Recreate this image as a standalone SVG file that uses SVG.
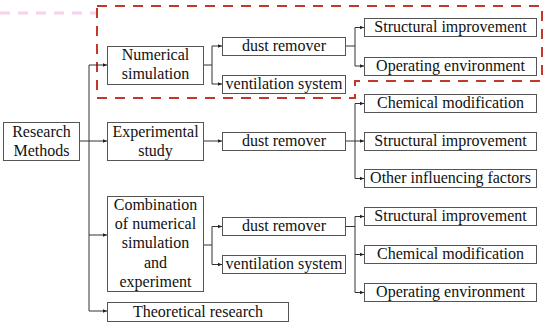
<svg xmlns="http://www.w3.org/2000/svg" width="550" height="328" viewBox="0 0 550 328">
<defs>
<marker id="ah" markerWidth="5" markerHeight="5" refX="4.5" refY="2.5" orient="auto" markerUnits="userSpaceOnUse">
<path d="M0,0.5 L4.5,2.5 L0,4.5 Z" fill="#222"/>
</marker>
</defs>
<style>
.box{fill:#fff;stroke:#555;stroke-width:1}
.t{font-family:"Liberation Serif","Times New Roman",serif;font-size:16px;fill:#111;text-anchor:middle}
.c{fill:none;stroke:#333;stroke-width:1}
.a{marker-end:url(#ah)}
</style>
<rect width="550" height="328" fill="#fff"/>
<g id="highlight">
<line x1="0" y1="13" x2="96" y2="13" stroke="#f6d3ec" stroke-width="3" stroke-dasharray="10 8"/>
<path d="M97,6 H542 V81 H355 V98 H97 Z" fill="none" stroke="#c0392b" stroke-width="2" stroke-dasharray="10 8"/>
</g>
<g id="connectors">
<path class="c" d="M79,141 H89"/>
<path class="c" d="M89,65 V311"/>
<path class="c a" d="M89,65 H107"/>
<path class="c a" d="M89,141 H107"/>
<path class="c a" d="M89,235 H107"/>
<path class="c a" d="M89,311 H107"/>
<path class="c" d="M203,65 H212 M212,46 V84"/>
<path class="c a" d="M212,46 H222"/>
<path class="c a" d="M212,84 H222"/>
<path class="c" d="M345,46 H355 M355,27.5 V66"/>
<path class="c a" d="M355,27.5 H364"/>
<path class="c a" d="M355,66 H364"/>
<path class="c a" d="M203,141 H222"/>
<path class="c" d="M345,141 H355 M355,103.5 V178.5"/>
<path class="c a" d="M355,103.5 H364"/>
<path class="c a" d="M355,141 H364"/>
<path class="c a" d="M355,178.5 H364"/>
<path class="c" d="M203,245 H212 M212,226.5 V264.5"/>
<path class="c a" d="M212,226.5 H222"/>
<path class="c a" d="M212,264.5 H222"/>
<path class="c" d="M345,226.5 H355 M355,216.5 V292.5"/>
<path class="c a" d="M355,216.5 H364"/>
<path class="c a" d="M355,254.5 H364"/>
<path class="c a" d="M355,292.5 H364"/>
</g>
<g id="research-methods"><rect class="box" x="3.5" y="122.5" width="76" height="38"/><text class="t" x="41.5" y="137">Research</text><text class="t" x="41.5" y="156">Methods</text></g>
<g id="numerical-simulation"><rect class="box" x="107.5" y="46.5" width="96" height="38"/><text class="t" x="155.5" y="60">Numerical</text><text class="t" x="155.5" y="79">simulation</text></g>
<g id="experimental-study"><rect class="box" x="107.5" y="122.5" width="96" height="38"/><text class="t" x="155.5" y="137">Experimental</text><text class="t" x="155.5" y="156">study</text></g>
<g id="combination"><rect class="box" x="107.5" y="196.5" width="96" height="95"/><text class="t" x="155.5" y="210">Combination</text><text class="t" x="155.5" y="229">of numerical</text><text class="t" x="155.5" y="248">simulation</text><text class="t" x="155.5" y="268">and</text><text class="t" x="155.5" y="287">experiment</text></g>
<g id="theoretical-research"><rect class="box" x="107.5" y="302.5" width="181" height="19"/><text class="t" x="198" y="317">Theoretical research</text></g>
<g id="dust-remover-1"><rect class="box" x="222.5" y="37.5" width="123" height="18"/><text class="t" x="284" y="51">dust remover</text></g>
<g id="ventilation-system-1"><rect class="box" x="222.5" y="75.5" width="123" height="18"/><text class="t" x="284" y="89">ventilation system</text></g>
<g id="dust-remover-2"><rect class="box" x="222.5" y="132.5" width="123" height="18"/><text class="t" x="284" y="146">dust remover</text></g>
<g id="dust-remover-3"><rect class="box" x="222.5" y="217.5" width="123" height="18"/><text class="t" x="284" y="231">dust remover</text></g>
<g id="ventilation-system-3"><rect class="box" x="222.5" y="255.5" width="123" height="18"/><text class="t" x="284" y="269">ventilation system</text></g>
<g id="structural-improvement-1"><rect class="box" x="364.5" y="18.5" width="172" height="18"/><text class="t" x="450.5" y="32">Structural improvement</text></g>
<g id="operating-environment-1"><rect class="box" x="364.5" y="57.5" width="172" height="18"/><text class="t" x="450.5" y="71">Operating environment</text></g>
<g id="chemical-modification-2"><rect class="box" x="364.5" y="94.5" width="172" height="18"/><text class="t" x="450.5" y="108">Chemical modification</text></g>
<g id="structural-improvement-2"><rect class="box" x="364.5" y="132.5" width="172" height="18"/><text class="t" x="450.5" y="146">Structural improvement</text></g>
<g id="other-factors-2"><rect class="box" x="364.5" y="169.5" width="172" height="18"/><text class="t" x="450.5" y="183">Other influencing factors</text></g>
<g id="structural-improvement-3"><rect class="box" x="364.5" y="207.5" width="172" height="18"/><text class="t" x="450.5" y="221">Structural improvement</text></g>
<g id="chemical-modification-3"><rect class="box" x="364.5" y="245.5" width="172" height="18"/><text class="t" x="450.5" y="259">Chemical modification</text></g>
<g id="operating-environment-3"><rect class="box" x="364.5" y="283.5" width="172" height="18"/><text class="t" x="450.5" y="297">Operating environment</text></g>
</svg>
